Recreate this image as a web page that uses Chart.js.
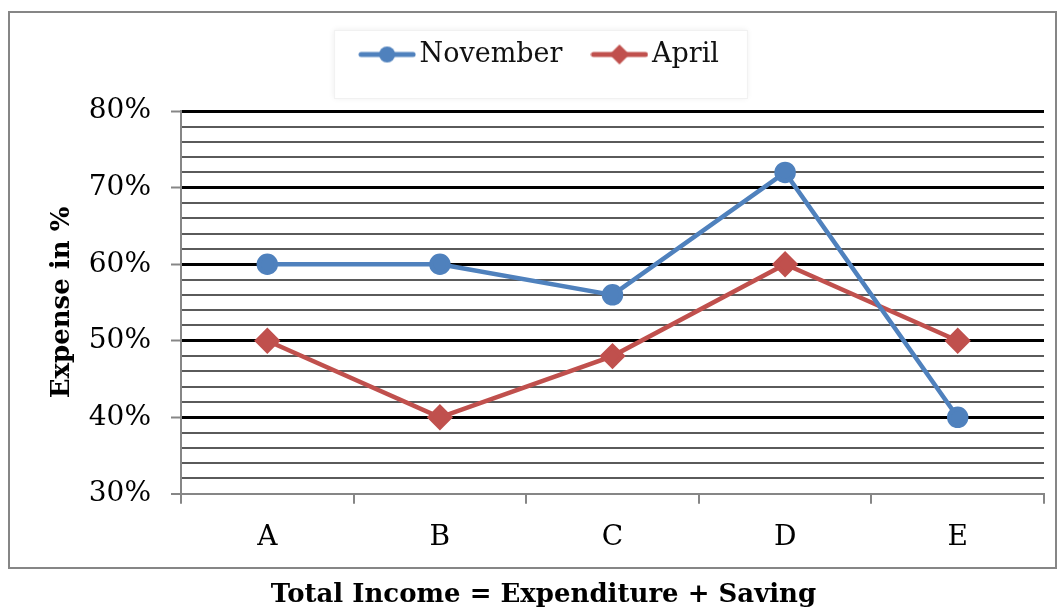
<!DOCTYPE html>
<html>
<head>
<meta charset="utf-8">
<script src="https://cdn.jsdelivr.net/npm/chart.js@4.4.1/dist/chart.umd.min.js"></script>
<style>
  html, body { margin: 0; padding: 0; background: #fff; }
  #wrap { width: 1062px; height: 611px; }
</style>
</head>
<body>
<div id="wrap"><canvas id="chart" width="1062" height="611"></canvas></div>
<script>
const categories = ['A', 'B', 'C', 'D', 'E'];
const novemberValues = [60, 60, 56, 72, 40];
const aprilValues = [50, 40, 48, 60, 50];
const yTicks = [30, 40, 50, 60, 70, 80];

const BLUE = '#4F81BD';
const RED = '#C0504D';
const AXIS_GRAY = '#868686';
const FONT = "'DejaVu Serif', serif";

// legend icon: short line with the marker in the middle
function legendIcon(color, shape) {
    const c = document.createElement('canvas');
    c.width = 58; c.height = 22;
    const ctx = c.getContext('2d');
    ctx.strokeStyle = color;
    ctx.lineWidth = 5;
    ctx.lineCap = 'round';
    ctx.beginPath();
    ctx.moveTo(3, 11); ctx.lineTo(55, 11);
    ctx.stroke();
    ctx.fillStyle = color;
    ctx.beginPath();
    if (shape === 'circle') {
        ctx.arc(29, 11, 8, 0, Math.PI * 2);
    } else {
        ctx.moveTo(29, 1); ctx.lineTo(39, 11); ctx.lineTo(29, 21); ctx.lineTo(19, 11);
        ctx.closePath();
    }
    ctx.fill();
    return c;
}
const icons = [legendIcon(BLUE, 'circle'), legendIcon(RED, 'diamond')];

// outer frame + faint legend box
const framePlugin = {
    id: 'frame',
    beforeDraw(chart) {
        const ctx = chart.ctx;
        ctx.save();
        ctx.strokeStyle = AXIS_GRAY;
        ctx.lineWidth = 2;
        ctx.strokeRect(9, 12, 1047, 556);
        const boxes = chart.legend && chart.legend.legendHitBoxes;
        if (boxes && boxes.length) {
            const first = boxes[0], last = boxes[boxes.length - 1];
            const l = first.left - 34, r = last.left + last.width + 28;
            const t = first.top - 11, b = first.top + first.height + 30;
            ctx.shadowColor = 'rgba(0,0,0,0.08)';
            ctx.shadowBlur = 6;
            ctx.fillStyle = '#fff';
            ctx.fillRect(l, t, r - l, b - t);
            ctx.shadowColor = 'transparent';
            ctx.strokeStyle = '#f1f1f1';
            ctx.lineWidth = 1;
            ctx.strokeRect(l + 0.5, t + 0.5, r - l, b - t);
        }
        ctx.restore();
    }
};

new Chart(document.getElementById('chart'), {
    type: 'line',
    data: {
        labels: categories,
        datasets: [{
            label: 'November',
            data: novemberValues,
            borderColor: BLUE,
            backgroundColor: BLUE,
            borderWidth: 4.5,
            pointStyle: 'circle',
            pointRadius: 8.5,
            pointHoverRadius: 8.5,
            tension: 0
        }, {
            label: 'April',
            data: aprilValues,
            borderColor: RED,
            backgroundColor: RED,
            borderWidth: 4.5,
            pointStyle: 'rectRot',
            pointRadius: 10,
            pointHoverRadius: 10,
            tension: 0
        }]
    },
    options: {
        responsive: false,
        animation: false,
        layout: { padding: { left: 43, right: 18, top: 3, bottom: 0 } },
        plugins: {
            legend: {
                position: 'top',
                weight: 1000,
                labels: {
                    usePointStyle: true,
                    pointStyleWidth: 38,
                    padding: 38,
                    color: '#111',
                    font: { family: FONT, size: 27 },
                    generateLabels(chart) {
                        return chart.data.datasets.map((ds, i) => ({
                            text: ds.label,
                            pointStyle: icons[i],
                            fillStyle: ds.borderColor,
                            strokeStyle: ds.borderColor,
                            fontColor: '#111',
                            lineWidth: 0,
                            hidden: false,
                            datasetIndex: i
                        }));
                    }
                }
            },
            subtitle: {
                // spacer between legend and plot
                display: true,
                text: '',
                position: 'top',
                weight: 500,
                font: { size: 1 },
                padding: { top: 0, bottom: 32 }
            },
            title: {
                display: true,
                text: 'Total Income = Expenditure + Saving',
                position: 'bottom',
                color: '#000',
                font: { family: FONT, size: 26, weight: 'bold' },
                padding: { top: 17, bottom: 0 }
            },
            tooltip: { enabled: false }
        },
        scales: {
            x: {
                offset: true,
                afterFit(s) { s.height = 69; },
                grid: {
                    offset: true,
                    drawOnChartArea: false,
                    drawTicks: true,
                    tickLength: 10,
                    color: AXIS_GRAY,
                    lineWidth: 2
                },
                border: { display: true, color: AXIS_GRAY, width: 2 },
                ticks: {
                    color: '#000',
                    padding: 17,
                    font: { family: FONT, size: 28 }
                }
            },
            y: {
                min: yTicks[0],
                max: yTicks[yTicks.length - 1],
                afterFit(s) { s.width = 138; },
                ticks: {
                    stepSize: 2,
                    autoSkip: false,
                    color: '#000',
                    padding: 20,
                    font: { family: FONT, size: 28 },
                    callback(v) { return yTicks.includes(v) ? v + '%' : ''; }
                },
                grid: {
                    drawTicks: true,
                    tickLength: 10,
                    color(ctx) {
                        const v = ctx.tick.value;
                        if (v === yTicks[0]) return AXIS_GRAY;
                        return v % 10 === 0 ? '#000' : '#5a5a5a';
                    },
                    lineWidth(ctx) {
                        const v = ctx.tick.value;
                        if (v === yTicks[0]) return 2;
                        return v % 10 === 0 ? 3 : 2;
                    },
                    tickColor(ctx) {
                        return yTicks.includes(ctx.tick.value) ? AXIS_GRAY : 'rgba(0,0,0,0)';
                    },
                    tickWidth: 2
                },
                border: { display: true, color: AXIS_GRAY, width: 2 },
                title: {
                    display: true,
                    text: 'Expense in %',
                    color: '#000',
                    font: { family: FONT, size: 26, weight: 'bold' },
                    padding: { top: 4, bottom: 0 }
                }
            }
        }
    },
    plugins: [framePlugin]
});
</script>
</body>
</html>
